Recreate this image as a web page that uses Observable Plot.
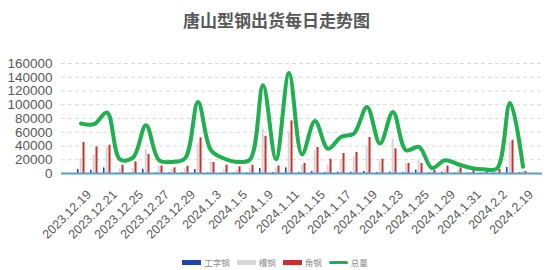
<!DOCTYPE html>
<html>
<head>
<meta charset="utf-8">
<script src="https://cdn.jsdelivr.net/npm/d3@7"></script>
<script src="https://cdn.jsdelivr.net/npm/@observablehq/plot@0.6"></script>
<style>
  html, body { margin: 0; padding: 0; background: #fff; overflow: hidden; }
  body { width: 553px; height: 270px; font-family: "Liberation Sans", "Noto Sans CJK SC", sans-serif; }
  #title { height: 40px; line-height: 40px; text-align: center; font-family: "Noto Sans CJK SC", sans-serif; font-size: 17px; font-weight: bold; color: #595959; }
  #legend { display: flex; justify-content: center; align-items: center; gap: 4px; font-family: "Noto Sans CJK SC", sans-serif; font-size: 8.5px; color: #8c8c8c; height: 14px; margin-top: 0px; }
  #legend .sw { display: inline-block; width: 19px; height: 5px; margin-right: 3px; vertical-align: middle; }
  #legend .ln { display: inline-block; width: 19px; height: 3px; margin-right: 3px; vertical-align: middle; border-radius: 2px; }
  #legend .it { display: inline-flex; align-items: center; margin-right: 3px; }
</style>
</head>
<body>
<div id="title">唐山型钢出货每日走势图</div>
<div id="chart"></div>
<div id="legend"></div>
<script>
const dates = ["2023.12.19","2023.12.20","2023.12.21","2023.12.22","2023.12.25","2023.12.26","2023.12.27","2023.12.28","2023.12.29",
  "2024.1.2","2024.1.3","2024.1.4","2024.1.5","2024.1.8","2024.1.9","2024.1.10","2024.1.11","2024.1.12",
  "2024.1.15","2024.1.16","2024.1.17","2024.1.18","2024.1.19","2024.1.22","2024.1.23","2024.1.24","2024.1.25","2024.1.26",
  "2024.1.29","2024.1.30","2024.1.31","2024.2.1","2024.2.2","2024.2.18","2024.2.19"];
const gongzi = [5800,4800,8100,600,500,6200,800,1000,1000,5800,900,500,500,900,7300,1500,8100,1500,3000,1500,2000,2000,3000,1500,2000,1500,4800,800,2000,500,500,500,900,8700,1500];
const caogang = [21800,26600,38700,7300,7300,35300,10600,6000,7300,43600,16900,5800,4800,8100,64400,8100,61500,12100,33000,12100,20400,24200,39700,17900,49500,14500,19300,4000,6000,4800,2000,1000,1500,45000,4000];
const jiaogang = [45000,38700,41200,12100,16900,27600,10900,8100,10600,51800,16000,12100,9700,12100,54100,10900,76500,14500,37800,20800,29100,30500,52400,20800,35800,14500,14500,4500,10900,8100,6000,3000,5800,48400,3000];
const zongliang = [72700,71700,88700,20500,23000,70200,19300,16900,22000,104000,33900,21800,16900,20400,128400,20800,146300,28000,76500,36000,53200,58200,96900,43600,89600,33900,38700,8000,19300,13500,8100,6200,7300,102700,9700];
const yTicks = [0,20000,40000,60000,80000,100000,120000,140000,160000];
const seriesNames = ["工字钢","槽钢","角钢","总量"];
const colors = ["#1d46a8","#d6d6d6","#c9302c","#20b04f"];

const rows = dates.map((d, i) => ({date: d, gongzi: gongzi[i], caogang: caogang[i], jiaogang: jiaogang[i], total: zongliang[i]}));
const labelDates = dates.filter((d, i) => i % 2 === 0);

const chart = Plot.plot({
  width: 553,
  height: 215,
  marginTop: 23,
  marginBottom: 82,
  marginLeft: 61,
  marginRight: 11,
  style: {fontFamily: "Liberation Sans, sans-serif", fontSize: "13px", color: "#595959", background: "#fff"},
  x: {type: "band", domain: dates, padding: 0, label: null},
  y: {domain: [0, 160000], label: null},
  marks: [
    Plot.ruleY(yTicks.filter(t => t > 0), {stroke: "#d9d9d9", strokeDasharray: "4,3", strokeWidth: 1}),
    Plot.barY(rows, {x: "date", y: "gongzi", fill: colors[0], insetLeft: 3, insetRight: 8.5}),
    Plot.barY(rows, {x: "date", y: "caogang", fill: colors[1], insetLeft: 5.7, insetRight: 5.3}),
    Plot.barY(rows, {x: "date", y: "jiaogang", fill: colors[2], insetLeft: 8.5, insetRight: 2.5}),
    Plot.ruleY([0], {stroke: "#5b9bd5", strokeWidth: 2}),
    Plot.line(rows, {x: "date", y: "total", stroke: colors[3], strokeWidth: 4, curve: "catmull-rom"}),
    Plot.axisX({ticks: labelDates, tickRotate: -45, tickSize: 0, tickPadding: 6, dx: 8, dy: 13, label: null, fontSize: 12.5}),
    Plot.axisY({ticks: yTicks, tickFormat: "d", tickSize: 0, tickPadding: 9, label: null, fontSize: 13.5})
  ]
});
document.getElementById("chart").appendChild(chart);

const legend = document.getElementById("legend");
seriesNames.forEach((name, i) => {
  const it = document.createElement("span");
  it.className = "it";
  const sw = document.createElement("span");
  sw.className = i === 3 ? "ln" : "sw";
  sw.style.background = colors[i];
  it.appendChild(sw);
  it.appendChild(document.createTextNode(name));
  legend.appendChild(it);
});
</script>
</body>
</html>
